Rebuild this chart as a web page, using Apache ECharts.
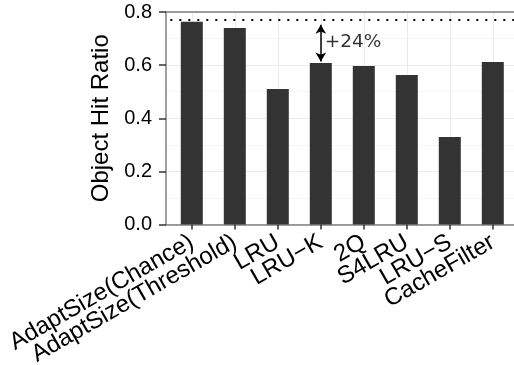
<!DOCTYPE html>
<html>
<head>
<meta charset="utf-8">
<script src="https://cdn.jsdelivr.net/npm/echarts@6/dist/echarts.min.js"></script>
<style>
html,body{margin:0;padding:0;background:#fff;}
#chart{width:514px;height:365px;}
</style>
</head>
<body>
<div id="chart"></div>
<script>
const categories = ['AdaptSize(Chance)', 'AdaptSize(Threshold)', 'LRU', 'LRU\u2212K', '2Q', 'S4LRU', 'LRU\u2212S', 'CacheFilter'];
const hitRatio = [0.763, 0.740, 0.510, 0.608, 0.597, 0.563, 0.329, 0.612];
const yTicks = [0.0, 0.2, 0.4, 0.6, 0.8];
const refLevel = 0.767;
const arrowFrom = [3, 0.752];
const arrowTo = [3, 0.614];
const annotText = '+24%';
const annotPos = [3, 0.687];

const font = 'Liberation Sans, Arial, Helvetica, sans-serif';

const chart = echarts.init(document.getElementById('chart'), null, {renderer: 'canvas'});
chart.setOption({
  animation: false,
  backgroundColor: '#ffffff',
  grid: [
    {left: 166, top: 12, right: 0, height: 212.5, show: false, outerBoundsMode: 'none', containLabel: false},
    {left: 170.3, top: 12, width: 344, height: 212.5, show: false, outerBoundsMode: 'none', containLabel: false}
  ],
  xAxis: [{
    gridIndex: 0, type: 'value', min: 0, max: 1,
    axisLine: {show: true, lineStyle: {color: '#7f7f7f', width: 1.5}},
    axisTick: {show: false}, axisLabel: {show: false}, splitLine: {show: false}
  }, {
    gridIndex: 0, type: 'value', min: 0, max: 1, position: 'top',
    axisLine: {show: true, onZero: false, lineStyle: {color: '#7f7f7f', width: 1.5}},
    axisTick: {show: false}, axisLabel: {show: false}, splitLine: {show: false}
  }, {
    gridIndex: 1, type: 'category', data: categories, boundaryGap: true,
    axisLine: {show: false},
    axisTick: {show: true, alignWithLabel: true, interval: 0, length: 5, lineStyle: {color: '#333', width: 1.5}},
    axisLabel: {
      rotate: 30, margin: 16, interval: 0, hideOverlap: false,
      fontFamily: font, fontSize: 24, color: '#000'
    },
    splitLine: {show: true, alignWithLabel: true, interval: 0, lineStyle: {color: '#ebebeb', width: 1}}
  }],
  yAxis: [{
    gridIndex: 0, type: 'value', min: 0, max: 0.8, interval: 0.2,
    name: 'Object Hit Ratio', nameLocation: 'middle', nameGap: 53,
    nameTextStyle: {fontFamily: font, fontSize: 24, color: '#000'},
    axisLine: {show: true, lineStyle: {color: '#7f7f7f', width: 1.5}},
    axisTick: {show: true, length: 7, lineStyle: {color: '#333', width: 1.5}},
    axisLabel: {
      margin: 14, fontFamily: font, fontSize: 20, color: '#000',
      formatter: v => v.toFixed(1)
    },
    splitLine: {show: true, lineStyle: {color: '#ebebeb', width: 1}},
    minorTick: {show: false, splitNumber: 2},
    minorSplitLine: {show: true, lineStyle: {color: '#f5f5f5', width: 1}}
  }, {
    gridIndex: 1, type: 'value', min: 0, max: 0.8, show: false
  }],
  series: [
    {
      type: 'bar', xAxisIndex: 2, yAxisIndex: 1,
      data: hitRatio,
      barWidth: 22,
      itemStyle: {color: '#333333'},
      z: 3,
      markLine: {
        silent: true, symbol: ['none', 'none'],
        label: {show: false},
        lineStyle: {color: '#000', type: [2, 7], width: 2},
        data: [{yAxis: refLevel}]
      }
    },
    {
      type: 'scatter', xAxisIndex: 2, yAxisIndex: 1,
      data: [annotPos],
      symbolSize: 0,
      label: {
        show: true, position: 'right', distance: 4,
        formatter: annotText,
        fontFamily: 'DejaVu Sans', fontSize: 18.5, color: '#000'
      },
      markLine: {
        silent: true, symbol: ['arrow', 'arrow'], symbolSize: [8, 9],
        label: {show: false},
        lineStyle: {color: '#000', type: 'solid', width: 1.5},
        data: [[{coord: arrowFrom}, {coord: arrowTo}]]
      }
    }
  ]
});
</script>
</body>
</html>
